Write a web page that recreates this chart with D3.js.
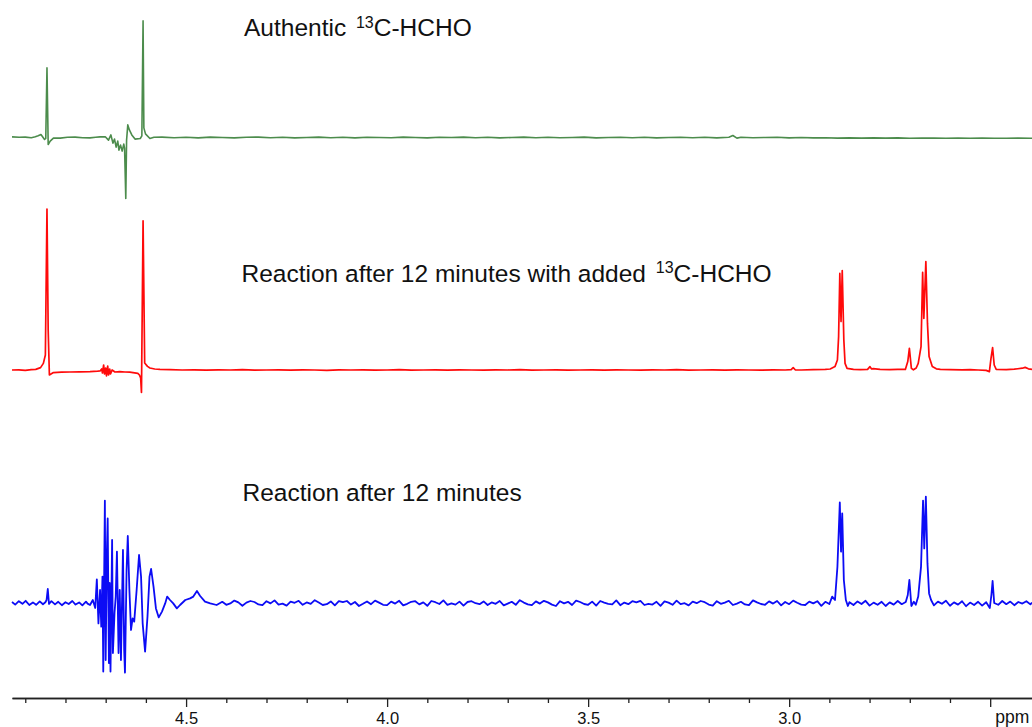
<!DOCTYPE html>
<html>
<head>
<meta charset="utf-8">
<script src="https://cdn.jsdelivr.net/npm/d3@7"></script>
<style>
  html, body { margin: 0; padding: 0; background: #fff; }
  svg { display: block; }
  text { font-family: "Liberation Sans", Arial, Helvetica, sans-serif; }
</style>
</head>
<body>
<svg id="chart" width="1032" height="727"></svg>
<script>
// ---- Spectra: [chemical shift (ppm), intensity] ----

// Authentic 13C-HCHO
const greenBase = [
  [4.933,0.3],[4.915,0.1],[4.900,0.2],[4.885,-0.1],[4.875,0.4],
  [4.56,0.2],[4.53,-0.1],[4.50,0.1],[4.47,-0.2],[4.44,0.2],[4.41,0.0],[4.38,-0.2],[4.35,0.1],
  [4.32,0.2],[4.29,-0.1],[4.26,0.1],[4.23,-0.2],[4.20,0.0],[4.17,0.2],[4.14,-0.1],[4.11,0.1],
  [4.08,-0.2],[4.05,0.1],[4.02,0.0],[3.99,-0.1],[3.96,0.2],[3.93,0.0],[3.90,-0.2],[3.87,0.1],
  [3.84,0.0],[3.81,0.2],[3.78,-0.1],[3.75,0.1],[3.72,-0.2],[3.69,0.0],[3.66,0.2],[3.63,-0.1],
  [3.60,0.1],[3.57,-0.1],[3.54,0.0],[3.51,0.2],[3.48,-0.2],[3.45,0.0],[3.42,0.1],[3.39,-0.1],
  [3.36,0.1],[3.33,-0.2],[3.30,0.0],[3.27,0.1],[3.24,-0.1],[3.21,0.1],[3.18,-0.2],[3.15,0.1],
  [3.14,1.0],[3.13,-0.3],[3.12,0.1],[3.09,-0.1],[3.06,0.0],[3.03,0.1],[3.00,-0.2],[2.97,0.0],
  [2.94,-0.2],[2.91,-0.1],[2.88,-0.3],[2.85,-0.2],[2.82,-0.3],[2.79,-0.2],[2.76,-0.3],[2.73,-0.2],
  [2.70,-0.4],[2.67,-0.3],[2.64,-0.3],[2.61,-0.4],[2.58,-0.3],[2.55,-0.4],[2.52,-0.3],[2.49,-0.4],
  [2.46,-0.4],[2.43,-0.3],[2.40,-0.4],[2.396,-0.4]
];
const greenPeaks = [
  [4.868,0.9],[4.861,1.5],[4.852,-1.0],[4.849,-0.5],[4.846,34.8],[4.843,-3.5],[4.838,-1.8],
  [4.830,-0.3],[4.813,-0.3],[4.795,0.1],[4.776,0.2],[4.757,-0.1],[4.739,-0.2],[4.725,0.1],
  [4.714,0.3],[4.701,0.4],[4.693,-1.3],[4.687,1.3],[4.682,-2.8],[4.678,-0.8],[4.674,-4.8],
  [4.670,-1.8],[4.667,-6.3],[4.663,-3.8],[4.659,-6.8],[4.655,-3.3],[4.653,-5.3],[4.650,-30.5],
  [4.648,-1.3],[4.645,6.3],[4.641,3.8],[4.635,1.3],[4.627,-0.8],[4.614,-0.5],[4.610,0.8],
  [4.607,58.3],[4.605,4.8],[4.601,1.8],[4.590,-0.5],[4.580,0.1]
];

// Reaction after 12 minutes with added 13C-HCHO
const redBase = [
  [4.933,0.0],[4.916,0.1],[4.900,-0.2],[4.885,0.2],[4.874,0.3],
  [4.54,0.2],[4.51,0.0],[4.48,0.1],[4.45,-0.1],[4.42,0.1],[4.39,0.0],[4.36,0.2],[4.33,-0.1],
  [4.30,0.0],[4.27,0.1],[4.24,-0.1],[4.21,0.1],[4.18,0.0],[4.15,-0.2],[4.12,0.1],[4.09,0.0],
  [4.06,0.1],[4.03,-0.1],[4.00,0.0],[3.97,0.2],[3.94,-0.1],[3.91,0.0],[3.88,0.1],[3.85,-0.1],
  [3.82,0.1],[3.79,0.0],[3.76,-0.1],[3.73,0.1],[3.70,0.0],[3.67,0.2],[3.64,-0.1],[3.61,0.0],
  [3.58,0.1],[3.55,-0.1],[3.52,0.0],[3.49,0.1],[3.46,-0.1],[3.43,0.1],[3.40,0.0],[3.37,-0.1],
  [3.34,0.1],[3.31,0.0],[3.28,0.2],[3.25,-0.1],[3.22,0.0],[3.19,0.1],[3.16,-0.1],[3.13,0.1],
  [3.10,0.0],[3.07,-0.1],[3.04,0.1],[3.01,0.0],[2.995,0.2],[2.990,1.2],[2.985,0.1],[2.97,0.0],
  [2.94,0.2],[2.91,0.3],
  [2.60,0.2],[2.57,0.1],[2.55,0.2],[2.53,0.0],[2.51,-0.2],
  [2.46,0.2],[2.44,0.4],[2.42,0.9],[2.413,1.3],[2.405,0.6],[2.396,0.3]
];
const redPeaks = [
  [4.862,1.2],[4.855,3.3],[4.850,7.5],[4.846,80.5],[4.843,20.0],[4.840,-2.5],[4.830,-1.3],
  [4.810,-1.1],[4.789,-1.0],[4.765,-0.9],[4.739,-0.8],[4.720,-0.6],[4.714,-0.5],[4.710,0.5],
  [4.708,-1.5],[4.705,2.5],[4.703,-2.0],[4.700,1.0],[4.698,-3.0],[4.695,2.0],[4.693,-2.5],
  [4.690,0.5],[4.688,-2.0],[4.684,0.0],[4.677,-1.0],[4.665,-0.8],[4.652,-1.0],[4.640,-1.1],
  [4.632,-1.3],[4.620,-1.7],[4.616,-2.5],[4.613,-4.0],[4.611,-11.2],[4.607,74.6],[4.603,3.5],
  [4.596,1.8],[4.590,1.0],[4.578,0.5],[4.565,0.3],
  [2.898,0.5],[2.886,1.7],[2.880,5.0],[2.877,16.7],[2.874,48.3],[2.871,24.2],[2.868,49.7],
  [2.864,15.0],[2.861,3.3],[2.856,0.8],[2.840,0.3],[2.823,0.2],[2.805,0.3],[2.799,1.7],
  [2.795,0.5],[2.791,0.7],[2.774,0.3],[2.750,0.2],[2.730,0.3],[2.711,0.3],[2.705,4.2],
  [2.701,10.8],[2.696,0.8],[2.691,0.1],[2.684,1.0],[2.679,3.3],[2.672,11.7],[2.668,48.8],
  [2.665,25.8],[2.660,54.2],[2.656,23.3],[2.652,6.7],[2.644,1.7],[2.634,0.6],[2.624,0.3],
  [2.502,-0.8],[2.498,5.8],[2.494,11.2],[2.490,2.5],[2.485,0.3]
];

// Reaction after 12 minutes
const blueBase = [
  [4.933,0.5],[4.925,-0.8],[4.916,0.9],[4.907,-0.4],[4.899,1.1],[4.890,-1.0],[4.881,0.3],
  [4.873,-0.9],[4.864,0.8],[4.856,-0.6],[4.850,0.4],
  [4.41,0.6],[4.40,-0.9],[4.39,-0.2],[4.38,1.2],[4.37,0.3],[4.36,-1.4],[4.35,0.2],[4.34,1.0],
  [4.33,0.5],[4.32,-0.7],[4.31,-1.1],[4.30,0.9],[4.29,-0.2],[4.28,1.3],[4.27,-0.8],[4.26,-0.3],
  [4.25,-1.3],[4.24,0.7],[4.23,0.1],[4.22,1.1],[4.21,-0.9],[4.20,0.3],[4.19,-0.4],[4.18,1.4],
  [4.17,0.2],[4.16,-1.0],[4.15,-0.6],[4.14,0.8],[4.13,-1.2],[4.12,0.9],[4.11,0.4],[4.10,1.0],
  [4.09,-0.8],[4.08,0.5],[4.07,-1.5],[4.06,-0.4],[4.05,0.8],[4.04,-0.6],[4.03,1.2],[4.02,0.2],
  [4.01,-0.9],[4.00,-1.1],[3.99,0.7],[3.98,-0.3],[3.97,1.1],[3.96,-1.2],[3.95,-0.4],[3.94,0.6],
  [3.93,0.9],[3.92,-0.7],[3.91,0.3],[3.90,-1.4],[3.89,1.0],[3.88,0.4],[3.87,-0.5],[3.86,1.3],
  [3.85,-0.9],[3.84,-0.2],[3.83,-0.8],[3.82,0.7],[3.81,-1.3],[3.80,0.5],[3.79,0.9],[3.78,-0.1],
  [3.77,-0.6],[3.76,0.8],[3.75,-1.0],[3.74,0.3],[3.73,-0.4],[3.72,1.0],[3.71,-1.2],[3.70,-0.3],
  [3.69,0.6],[3.68,-0.9],[3.67,1.4],[3.66,0.2],[3.65,-0.7],[3.64,-1.1],[3.63,0.8],[3.62,-0.3],
  [3.61,1.1],[3.60,0.3],[3.59,-0.8],[3.58,-1.5],[3.57,0.9],[3.56,-0.2],[3.55,0.6],[3.54,-1.0],
  [3.53,1.2],[3.52,0.5],[3.51,-0.5],[3.50,-0.9],[3.49,0.7],[3.48,-1.3],[3.47,1.0],[3.46,0.2],
  [3.45,-0.4],[3.44,-0.7],[3.43,1.3],[3.42,-1.1],[3.41,0.2],[3.40,-0.6],[3.39,0.9],[3.38,0.3],
  [3.37,1.1],[3.36,-1.0],[3.35,-0.4],[3.34,-0.8],[3.33,0.6],[3.32,-1.4],[3.31,0.8],[3.30,0.2],
  [3.29,-0.9],[3.28,1.2],[3.27,-0.6],[3.26,-0.1],[3.25,-1.2],[3.24,0.7],[3.23,-0.1],[3.22,1.0],
  [3.21,0.4],[3.20,-0.8],[3.19,-1.3],[3.18,0.9],[3.17,-0.4],[3.16,0.2],[3.15,1.1],[3.14,-1.0],
  [3.13,-0.3],[3.12,0.6],[3.11,-0.7],[3.10,-1.1],[3.09,1.3],[3.08,0.3],[3.07,-0.5],[3.06,-0.9],
  [3.05,0.8],[3.04,-0.3],[3.03,1.0],[3.02,-1.2],[3.01,0.5],[3.00,-0.6],[2.99,1.2],[2.98,0.1],
  [2.97,-0.8],[2.96,-1.0],[2.95,0.7],[2.94,-0.2],[2.93,0.9],[2.92,-1.4],[2.91,0.6],[2.90,-0.5],
  [2.85,0.4],[2.84,-1.0],[2.83,0.8],[2.82,-0.5],[2.81,1.1],[2.80,-1.3],[2.79,0.2],[2.78,-0.9],
  [2.77,0.6],[2.76,-1.5],[2.75,0.3],[2.74,-0.8],[2.73,1.0],[2.72,-0.6],[2.71,0.5],
  [2.64,-1.2],[2.63,0.7],[2.62,-0.4],[2.61,1.1],[2.60,-1.4],[2.59,0.3],[2.58,-0.8],[2.57,0.9],
  [2.56,-1.6],[2.55,0.2],[2.54,-1.0],[2.53,0.6],[2.52,-1.3],[2.51,0.4],
  [2.48,-0.9],[2.47,1.0],[2.46,-0.6],[2.45,0.7],[2.44,-1.1],[2.43,0.5],[2.42,-0.3],[2.41,0.9],
  [2.40,-0.7],[2.396,0.2]
];
const bluePeaks = [
  [4.847,1.5],[4.844,7.0],[4.841,-0.5],[4.835,0.9],[4.826,-0.7],[4.818,0.6],[4.809,-1.1],
  [4.800,0.4],[4.792,-0.5],[4.783,1.0],[4.775,-0.8],[4.766,0.3],[4.758,-1.2],[4.749,0.7],
  [4.745,-0.3],[4.739,-1.0],[4.732,1.5],[4.726,-2.5],[4.722,11.8],[4.718,-10.2],[4.714,6.5],
  [4.711,-11.8],[4.708,13.2],[4.706,-34.3],[4.702,51.2],[4.700,-28.5],[4.697,25.7],[4.695,42.3],
  [4.692,-30.0],[4.690,10.0],[4.688,-34.3],[4.684,31.5],[4.682,-25.0],[4.678,-5.0],[4.675,3.2],
  [4.672,25.7],[4.668,-25.0],[4.665,6.5],[4.662,-28.5],[4.657,26.5],[4.654,-23.5],[4.652,-34.8],
  [4.648,16.5],[4.645,33.5],[4.641,6.5],[4.637,-13.5],[4.633,-7.7],[4.629,-9.3],[4.623,6.5],
  [4.617,24.0],[4.612,13.2],[4.608,-10.2],[4.602,-24.3],[4.596,-6.8],[4.591,13.2],[4.587,17.0],
  [4.581,8.2],[4.575,-2.7],[4.568,-7.2],[4.560,-4.3],[4.552,-0.2],[4.547,3.2],[4.540,1.5],
  [4.532,-0.2],[4.523,-2.7],[4.515,-1.0],[4.502,1.5],[4.490,2.3],[4.482,3.2],[4.473,6.0],
  [4.465,3.5],[4.453,0.7],[4.440,-0.2],[4.424,-1.0],
  [2.893,3.2],[2.886,1.5],[2.880,18.0],[2.874,50.3],[2.871,25.7],[2.868,44.8],[2.864,11.5],
  [2.859,1.5],[2.854,-1.5],
  [2.705,4.0],[2.701,11.5],[2.696,-1.5],[2.690,0.6],[2.685,-0.9],[2.679,3.2],[2.672,18.2],
  [2.667,51.2],[2.664,27.3],[2.660,53.2],[2.656,19.8],[2.652,4.8],[2.647,1.5],
  [2.501,-2.5],[2.497,4.0],[2.494,11.0],[2.490,0.0]
];

// ---- Axis ----
const majorTicks = [4.5, 4.0, 3.5, 3.0, 2.5];
const tickLabels = ["4.5", "4.0", "3.5", "3.0", ""];
const minorTicks = [4.9,4.8,4.7,4.6,4.4,4.3,4.2,4.1,3.9,3.8,3.7,3.6,3.4,3.3,3.2,3.1,2.9,2.8,2.7,2.6];
const unitLabel = "ppm";

// ---- Trace titles ----
const titles = [
  { pre: "Authentic ", sup: "13", post: "C-HCHO" },
  { pre: "Reaction after 12 minutes with added ", sup: "13", post: "C-HCHO" },
  { pre: "Reaction after 12 minutes", sup: "", post: "" }
];

// ---- Layout ----
const svg = d3.select("#chart");

const x = d3.scaleLinear().domain([4.933, 2.396]).range([12, 1032]);
const y = d3.scaleLinear().domain([0, 100]).range([0, -200]);

const traces = [
  { base: greenBase, peaks: greenPeaks, color: "#4c8c4c", width: 1.6, offset: 137.5, title: titles[0], tx: 244,   ty: 36 },
  { base: redBase,   peaks: redPeaks,   color: "#ff0a0a", width: 1.7, offset: 370,   title: titles[1], tx: 241.5, ty: 281.5 },
  { base: blueBase,  peaks: bluePeaks,  color: "#0c0cf5", width: 1.8, offset: 603,   title: titles[2], tx: 242.5, ty: 501 }
];

const line = d3.line().x(d => x(d[0])).y(d => y(d[1]));

traces.forEach(t => {
  const pts = t.base.concat(t.peaks).sort((a, b) => b[0] - a[0]);
  svg.append("g")
    .attr("transform", `translate(0,${t.offset})`)
    .append("path")
    .datum(pts)
    .attr("d", line)
    .attr("fill", "none")
    .attr("stroke", t.color)
    .attr("stroke-width", t.width)
    .attr("stroke-linejoin", "round");

  const label = svg.append("text")
    .attr("x", t.tx).attr("y", t.ty)
    .attr("font-size", 24.5)
    .attr("fill", "#111");
  label.append("tspan").text(t.title.pre);
  if (t.title.sup) {
    label.append("tspan").attr("dx", 3).attr("dy", -8.5).attr("font-size", 16).text(t.title.sup);
    label.append("tspan").attr("dy", 8.5).text(t.title.post);
  }
});

// Frequency axis
const axisY = 698;
const minorAxis = d3.axisBottom(x).tickValues(minorTicks).tickSize(5).tickSizeOuter(0).tickFormat("");
const majorAxis = d3.axisBottom(x).tickValues(majorTicks).tickSize(9).tickSizeOuter(0)
  .tickPadding(5).tickFormat((d, i) => tickLabels[i]);

const gMinor = svg.append("g").attr("transform", `translate(0,${axisY})`).call(minorAxis);
const gMajor = svg.append("g").attr("transform", `translate(0,${axisY})`).call(majorAxis);
[gMinor, gMajor].forEach(g => {
  g.select(".domain").attr("stroke", "#222").attr("stroke-width", 1.3);
  g.selectAll(".tick line").attr("stroke", "#222").attr("stroke-width", 1.3);
});
gMajor.selectAll(".tick text")
  .attr("font-size", 16.5)
  .attr("font-family", "'Liberation Sans', Arial, sans-serif")
  .attr("fill", "#111");

svg.append("text")
  .attr("x", x(2.5) + 5)
  .attr("y", axisY + 25)
  .attr("font-size", 17.5)
  .attr("fill", "#111")
  .text(unitLabel);
</script>
</body>
</html>
